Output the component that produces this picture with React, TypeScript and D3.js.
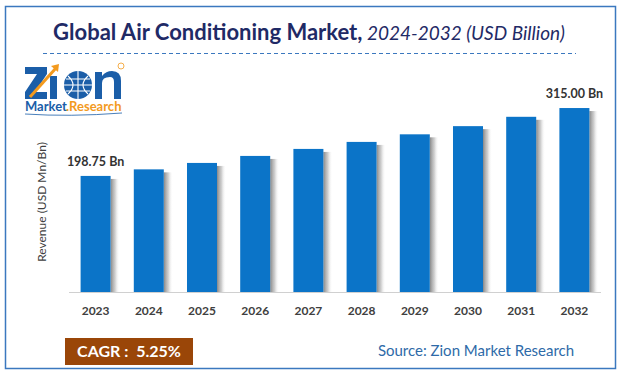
import React from "react";
import * as d3 from "d3";

const years = ["2023", "2024", "2025", "2026", "2027", "2028", "2029", "2030", "2031", "2032"];
const revenue = [198.75, 210.0, 221.0, 233.0, 245.0, 257.0, 270.0, 284.0, 300.0, 315.0];
const valueLabels: Record<string, string> = { "2023": "198.75 Bn", "2032": "315.00 Bn" };

const W = 621;
const H = 376;

export default function App() {
  const x = d3.scaleBand<string>().domain(years).range([69, 601]).paddingInner(0.436).paddingOuter(0.218);
  const y = d3.scaleLinear().domain([0, 350]).range([292, 87.6]);
  const bw = x.bandwidth();
  const font = "Lato, 'Open Sans', sans-serif";

  return (
    <svg width={W} height={H} style={{ position: "absolute", left: 0, top: 0, background: "#fff" }}>
      <defs>
        <linearGradient id="shadow" x1="0" x2="1" y1="0" y2="0">
          <stop offset="0" stopColor="#7a7a7a" stopOpacity="0.9" />
          <stop offset="0.5" stopColor="#b0b0b0" stopOpacity="0.6" />
          <stop offset="1" stopColor="#ffffff" stopOpacity="0" />
        </linearGradient>
      </defs>
      <rect x={0} y={0} width={W} height={H} fill="#fff" />
      <rect x={5.5} y={6.5} width={610} height={362} fill="none" stroke="#3b78bf" strokeWidth={1.5} />

      <text x={309} y={40} textAnchor="middle" fontFamily={font} fontSize={22} fill="#1f2a66">
        <tspan fontWeight="bold">Global Air Conditioning Market,</tspan>
        <tspan fontStyle="italic" fontSize={19}> 2024-2032 (USD Billion)</tspan>
      </text>
      <line x1={43} x2={576} y1={53.5} y2={53.5} stroke="#3b78bf" strokeWidth={1} strokeDasharray="4,3" />

      {/* Logo (drawn as shapes) */}
      <g>
        {/* Z */}
        <path d="M25,67 H47 V74 L35,92 H47 V99 H25 V92 L37,74 H25 Z" fill="#1b5ea8" />
        {/* I with orange arrow */}
        <rect x={50} y={76} width={7} height={23} fill="#1b5ea8" />
        <path d="M30,97 L56,68" stroke="#f39a1e" strokeWidth={3} fill="none" />
        <path d="M51,66 L59,64 L58,72 Z" fill="#f39a1e" />
        {/* globe */}
        <circle cx={78} cy={85} r={14} fill="#1b5ea8" />
        <path d="M64,85 H92 M78,71 V99 M68,76 Q78,85 68,94 M88,76 Q78,85 88,94 M66,79 H90 M66,91 H90" stroke="#fff" strokeWidth={1.1} fill="none" />
        {/* n */}
        <path d="M95,99 V72 H102 V76 Q106,71 112,71 Q121,71 121,81 V99 H114 V82 Q114,77 110,77 Q102,77 102,83 V99 Z" fill="#1b5ea8" />
        <circle cx={121} cy={66} r={3} fill="none" stroke="#f39a1e" strokeWidth={0.8} />
        <text x={25} y={111} fontFamily={font} fontSize={13} fontWeight="bold" fill="#1b5ea8">Market</text>
        <text x={66} y={111} fontFamily={font} fontSize={13} fontWeight="bold" fill="#f39a1e">.Research</text>
        <path d="M25,114 Q70,117 122,113" stroke="#1b5ea8" strokeWidth={0.8} fill="none" />
      </g>

      <text transform="translate(46,202) rotate(-90)" textAnchor="middle" fontFamily={font} fontSize={12} fill="#404040">
        Revenue (USD Mn/Bn)
      </text>

      {years.map((yr, i) => {
        const bx = x(yr)!;
        const top = y(revenue[i]);
        return (
          <g key={yr}>
            <rect x={bx + bw} y={top + 3} width={9} height={y(0) - top - 3} fill="url(#shadow)" />
            <rect x={bx} y={top} width={bw} height={y(0) - top} fill="#0b74c8" />
            {valueLabels[yr] && (
              <text x={bx + bw / 2} y={top - 10} textAnchor="middle" fontFamily={font} fontSize={12.5} fontWeight="bold" fill="#333">
                {valueLabels[yr]}
              </text>
            )}
            <text x={bx + bw / 2} y={315} textAnchor="middle" fontFamily={font} fontSize={12} fontWeight="bold" fill="#404040">
              {yr}
            </text>
          </g>
        );
      })}
      <line x1={69} x2={601} y1={292.5} y2={292.5} stroke="#d0d0d0" strokeWidth={1} />

      <rect x={65} y={338} width={128} height={27} fill="#9a4608" />
      <text x={129} y={357} textAnchor="middle" fontFamily={font} fontSize={16} fontWeight="bold" fill="#fff" xmlSpace="preserve">
        CAGR :  5.25%
      </text>
      <text x={476} y={356} textAnchor="middle" fontFamily={font} fontSize={15} fill="#2e6aa8">
        Source: Zion Market Research
      </text>
    </svg>
  );
}
